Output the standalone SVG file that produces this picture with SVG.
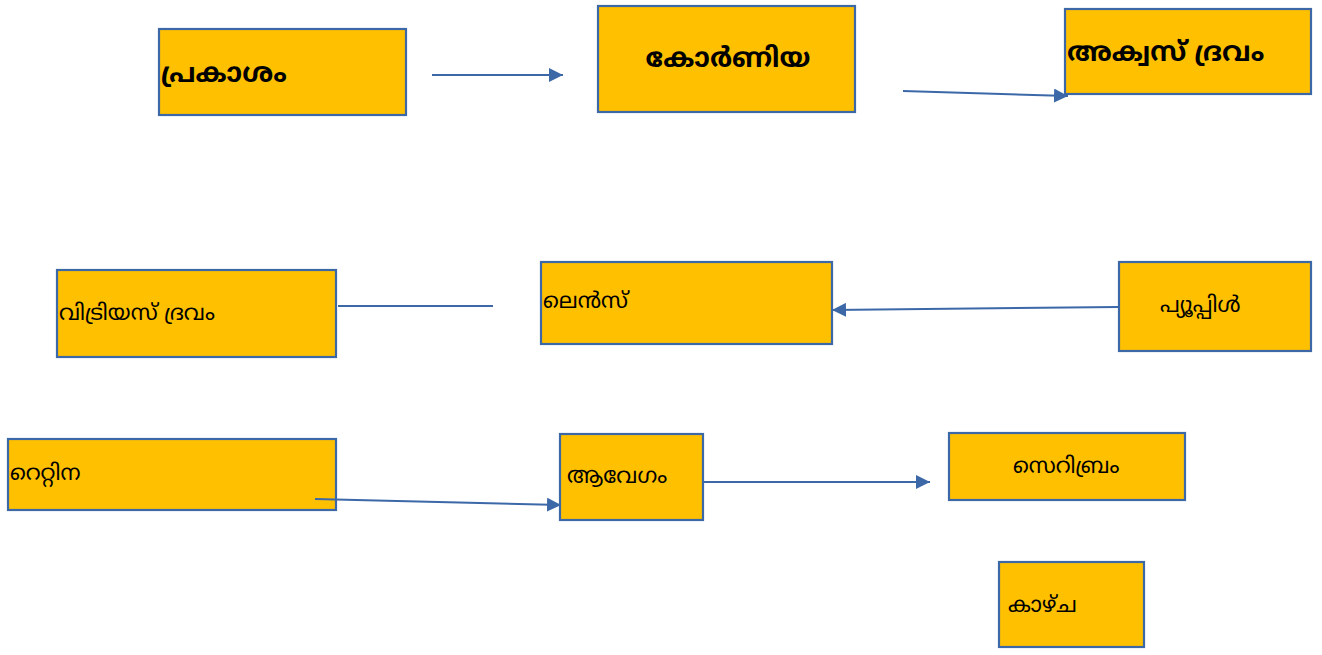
<svg xmlns="http://www.w3.org/2000/svg" width="1322" height="655" viewBox="0 0 1322 655">
  <defs>
    <style>
      .box { fill: #FFC000; stroke: #3C68A8; stroke-width: 2.2; }
      .lbl { font-family: "Noto Sans Malayalam", "Noto Sans", "DejaVu Sans", sans-serif; fill: #000; font-size: 22px; }
      .big { font-size: 27px; font-weight: bold; }
      .conn { stroke: #3C68A8; stroke-width: 2; fill: none; }
    </style>
    <marker id="head" viewBox="0 0 12 12" refX="12" refY="6" markerWidth="14" markerHeight="14" markerUnits="userSpaceOnUse" orient="auto">
      <path d="M0,0 L12,6 L0,12 z" fill="#3C68A8"/>
    </marker>
  </defs>

  <g id="node-light">
    <rect class="box" x="159" y="29" width="247" height="86"/>
    <text class="lbl big" x="161" y="82">പ്രകാശം</text>
  </g>
  <g id="node-cornea">
    <rect class="box" x="598" y="6" width="257" height="106"/>
    <text class="lbl big" x="728" y="67" text-anchor="middle">കോർണിയ</text>
  </g>
  <g id="node-aqueous">
    <rect class="box" x="1065" y="9" width="246" height="85"/>
    <text class="lbl big" x="1067" y="61">അക്വസ് ദ്രവം</text>
  </g>
  <g id="node-vitreous">
    <rect class="box" x="57" y="270" width="279" height="87"/>
    <text class="lbl" x="59" y="320">വിട്രിയസ് ദ്രവം</text>
  </g>
  <g id="node-lens">
    <rect class="box" x="541" y="262" width="291" height="82"/>
    <text class="lbl" x="543" y="308">ലെൻസ്</text>
  </g>
  <g id="node-pupil">
    <rect class="box" x="1119" y="262" width="192" height="89"/>
    <text class="lbl" x="1160" y="312">പ്യൂപ്പിൾ</text>
  </g>
  <g id="node-retina">
    <rect class="box" x="8" y="439" width="328" height="71"/>
    <text class="lbl" x="10" y="480">റെറ്റിന</text>
  </g>
  <g id="node-impulse">
    <rect class="box" x="560" y="434" width="143" height="86"/>
    <text class="lbl" x="567" y="483">ആവേഗം</text>
  </g>
  <g id="node-cerebrum">
    <rect class="box" x="949" y="433" width="236" height="67"/>
    <text class="lbl" x="1013" y="473">സെറിബ്രം</text>
  </g>
  <g id="node-vision">
    <rect class="box" x="999" y="562" width="145" height="85"/>
    <text class="lbl" x="1008" y="612">കാഴ്ച</text>
  </g>

  <!-- connectors sit above the boxes -->
  <g id="connectors">
    <line class="conn" x1="432" y1="75" x2="563" y2="75" marker-end="url(#head)"/>
    <line class="conn" x1="903" y1="91" x2="1068" y2="96" marker-end="url(#head)"/>
    <line class="conn" x1="338" y1="306" x2="493" y2="306"/>
    <line class="conn" x1="1118" y1="307" x2="832" y2="310" marker-end="url(#head)"/>
    <line class="conn" x1="315" y1="499" x2="561" y2="505" marker-end="url(#head)"/>
    <line class="conn" x1="703" y1="482" x2="930" y2="482" marker-end="url(#head)"/>
  </g>
</svg>
